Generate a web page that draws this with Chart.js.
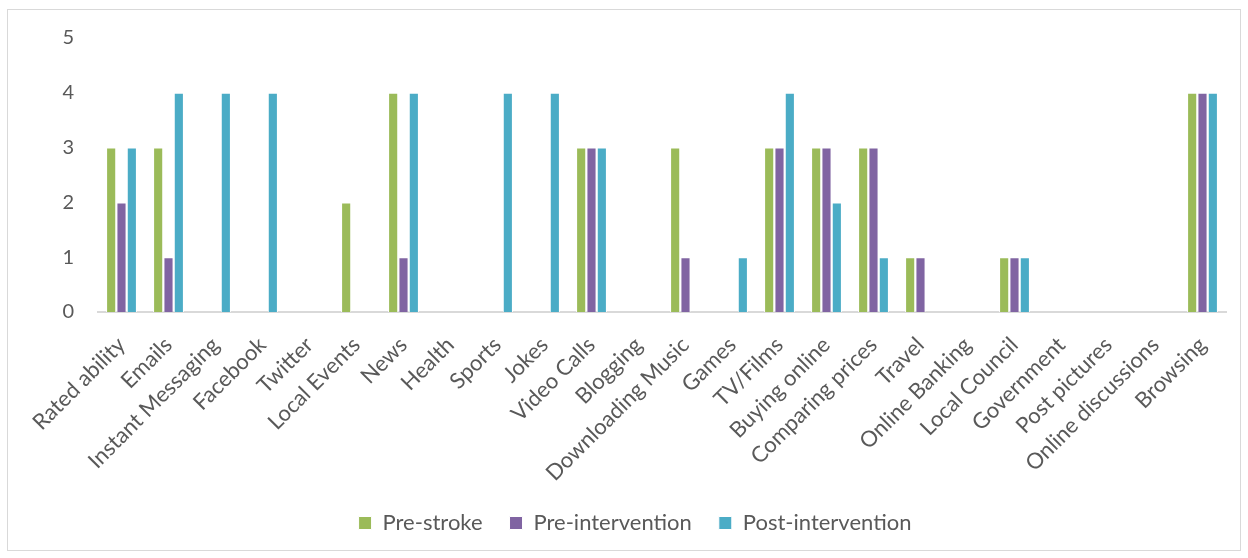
<!DOCTYPE html>
<html>
<head>
<meta charset="utf-8">
<script src="https://cdn.jsdelivr.net/npm/chart.js@4"></script>
<style>
  html, body { margin: 0; padding: 0; background: #fff; }
  #frame {
    position: absolute;
    left: 7px; top: 9px;
    width: 1232px; height: 540px;
    border: 1px solid #d9d9d9;
  }
  #usageChart { display: block; }
</style>
</head>
<body>
<div id="frame"><canvas id="usageChart" width="1232" height="540"></canvas></div>
<script>
const categories = [
  "Rated ability", "Emails", "Instant Messaging", "Facebook", "Twitter",
  "Local Events", "News", "Health", "Sports", "Jokes", "Video Calls",
  "Blogging", "Downloading Music", "Games", "TV/Films", "Buying online",
  "Comparing prices", "Travel", "Online Banking", "Local Council",
  "Government", "Post pictures", "Online discussions", "Browsing"
];
const preStroke =       [3, 3, 0, 0, 0, 2, 4, 0, 0, 0, 3, 0, 3, 0, 3, 3, 3, 1, 0, 1, 0, 0, 0, 4];
const preIntervention = [2, 1, 0, 0, 0, 0, 1, 0, 0, 0, 3, 0, 1, 0, 3, 3, 3, 1, 0, 1, 0, 0, 0, 4];
const postIntervention = [3, 4, 4, 4, 0, 0, 4, 0, 4, 4, 3, 0, 0, 1, 4, 2, 1, 0, 0, 1, 0, 0, 0, 4];
const yTicks = [0, 1, 2, 3, 4, 5];

const textColor = "#595959";
const fontFamily = "Lato, 'Open Sans', sans-serif";

const series = [
  { label: "Pre-stroke", data: preStroke, color: "#9bbb59" },
  { label: "Pre-intervention", data: preIntervention, color: "#8064a2" },
  { label: "Post-intervention", data: postIntervention, color: "#4bacc6" }
];

// nudge the legend a little to the right of the canvas centre
const legendShift = {
  id: "legendShift",
  afterLayout(chart) {
    if (chart.legend) {
      chart.legend.left += 18;
      chart.legend.right += 18;
    }
  }
};

new Chart(document.getElementById("usageChart"), {
  type: "bar",
  data: {
    labels: categories,
    datasets: series.map(s => ({
      label: s.label,
      data: s.data,
      backgroundColor: s.color,
      borderColor: "#ffffff",
      borderWidth: 1,
      categoryPercentage: 0.66,
      barPercentage: 0.98
    }))
  },
  plugins: [legendShift],
  options: {
    responsive: false,
    animation: false,
    layout: { padding: { top: 25, right: 14, bottom: 6, left: 0 } },
    plugins: {
      tooltip: { enabled: false },
      legend: {
        position: "bottom",
        labels: {
          color: textColor,
          font: { family: fontFamily, size: 22 },
          boxWidth: 13,
          boxHeight: 13,
          padding: 27
        }
      }
    },
    scales: {
      x: {
        grid: { display: false },
        border: { display: true, color: "#d9d9d9", width: 2 },
        ticks: {
          color: textColor,
          font: { family: fontFamily, size: 22 },
          minRotation: 45,
          maxRotation: 45,
          padding: 12,
          autoSkip: false
        },
        afterFit: scale => { scale.height = 173; }
      },
      y: {
        min: 0,
        max: 5,
        grid: { display: false },
        border: { display: false },
        afterBuildTicks: scale => { scale.ticks = yTicks.map(v => ({ value: v })); },
        ticks: {
          color: textColor,
          font: { family: fontFamily, size: 20 },
          padding: 16
        },
        afterFit: scale => { scale.width = 90; }
      }
    }
  }
});
</script>
</body>
</html>
